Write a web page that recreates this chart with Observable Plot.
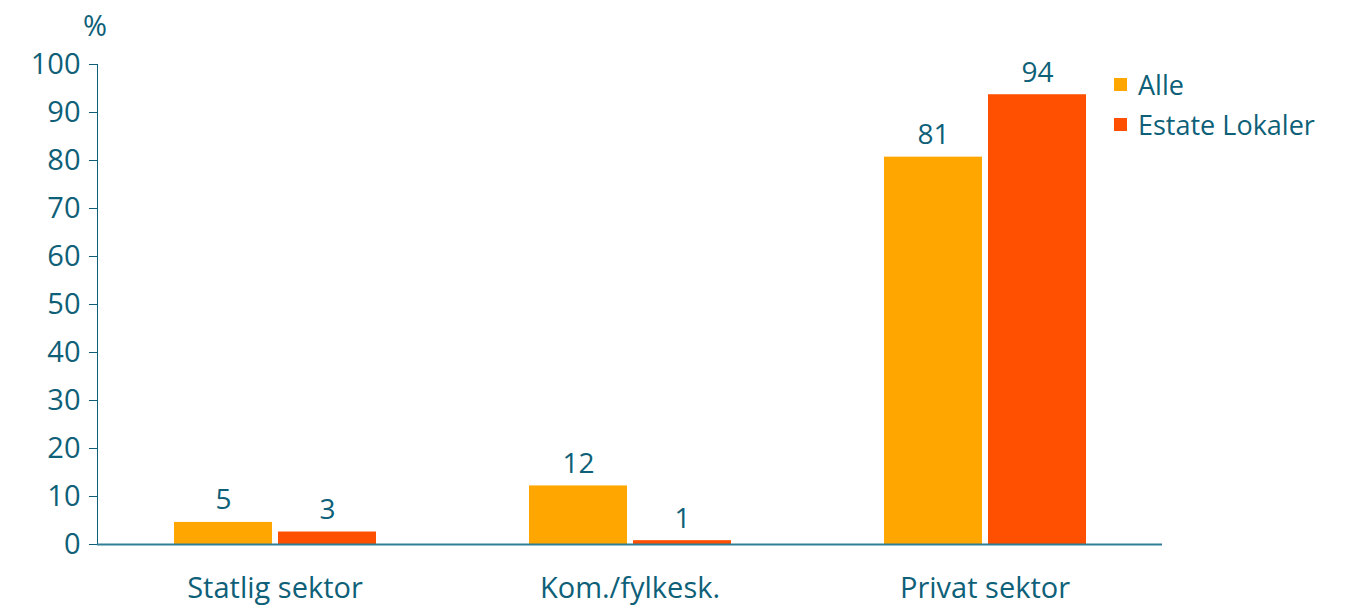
<!DOCTYPE html>
<html><head><meta charset="utf-8">
<script src="https://cdn.jsdelivr.net/npm/d3@7"></script>
<script src="https://cdn.jsdelivr.net/npm/@observablehq/plot@0.6"></script>
<style>
body{margin:0;background:#fff;font-family:"Open Sans",sans-serif;}
#wrap{position:relative;width:1352px;height:605px;overflow:hidden;}
#wrap svg{position:absolute;left:0;top:0;}
.pct{position:absolute;left:83px;top:10px;font-size:29px;color:#0e5f78;line-height:1;}
.legend{position:absolute;left:1114px;top:64px;color:#0e5f78;font-size:27px;}
.legend div{display:flex;align-items:center;height:40px;}
.legend span.sw{display:inline-block;width:13px;height:13px;margin-right:11px;}
</style></head><body><div id="wrap"></div>
<script>
const categories = ["Statlig sektor", "Kom./fylkesk.", "Privat sektor"];
const series = ["Alle", "Estate Lokaler"];
const alleValues = [4.6, 12.2, 80.7];
const estateValues = [2.6, 0.8, 93.7];
const yTicks = [0, 10, 20, 30, 40, 50, 60, 70, 80, 90, 100];
const seriesColors = ["#FFA600", "#FF4F00"];
const textColor = "#0e5f78";
const axisColor = "#2f7f98";

const data = categories.flatMap((c, i) => [
  {cat: c, series: series[0], value: alleValues[i]},
  {cat: c, series: series[1], value: estateValues[i]}
]);

const chart = Plot.plot({
  width: 1352, height: 605,
  marginLeft: 97, marginRight: 190, marginTop: 64, marginBottom: 61,
  style: {fontFamily: '"Open Sans", sans-serif', fontSize: "29px", color: textColor, background: "transparent", overflow: "visible"},
  fx: {domain: categories, padding: 0, label: null, axis: "bottom", tickSize: 0, tickPadding: 33},
  x: {domain: series, axis: null, paddingInner: 0.058, paddingOuter: 0.73},
  y: {domain: [0, 100], ticks: yTicks, tickSize: 8, tickPadding: 9, label: null, line: true},
  color: {domain: series, range: seriesColors},
  marks: [
    Plot.barY(data, {fx: "cat", x: "series", y: "value", fill: "series"}),
    Plot.text(data, {fx: "cat", x: "series", y: "value", text: d => String(Math.round(d.value)), dy: -13, lineAnchor: "bottom", fill: textColor, fontSize: 28}),
    Plot.ruleY([0], {stroke: axisColor, strokeWidth: 2})
  ]
});
const wrap = document.getElementById("wrap");
wrap.appendChild(chart);

const pct = document.createElement("div");
pct.className = "pct";
pct.textContent = "%";
wrap.appendChild(pct);

const legend = document.createElement("div");
legend.className = "legend";
series.forEach((s, i) => {
  const row = document.createElement("div");
  const sw = document.createElement("span");
  sw.className = "sw";
  sw.style.background = seriesColors[i];
  row.appendChild(sw);
  row.appendChild(document.createTextNode(s));
  legend.appendChild(row);
});
wrap.appendChild(legend);
</script>
</body></html>
